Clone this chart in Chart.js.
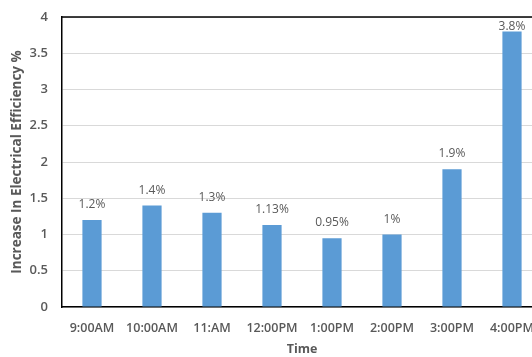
<!DOCTYPE html>
<html>
<head>
<meta charset="utf-8">
<script src="https://cdn.jsdelivr.net/npm/chart.js@4/dist/chart.umd.min.js"></script>
<style>
  html, body { margin: 0; padding: 0; background: #fff; overflow: hidden; }
  #wrap { position: absolute; left: 0; top: 0; width: 542px; height: 357px; }
</style>
</head>
<body>
<div id="wrap"><canvas id="c" width="542" height="357"></canvas></div>
<script>
const categories = ['9:00AM', '10:00AM', '11:AM', '12:00PM', '1:00PM', '2:00PM', '3:00PM', '4:00PM'];
const efficiencyGain = [1.2, 1.4, 1.3, 1.13, 0.95, 1, 1.9, 3.8];
const valueLabels = ['1.2%', '1.4%', '1.3%', '1.13%', '0.95%', '1%', '1.9%', '3.8%'];
const yTicks = [0, 0.5, 1, 1.5, 2, 2.5, 3, 3.5, 4];

const FONT = "'Open Sans', 'Liberation Sans', sans-serif";
const GREY = '#595959';

// Percent labels above each bar
const barLabels = {
  id: 'barLabels',
  afterDatasetsDraw(chart) {
    const { ctx, chartArea } = chart;
    const meta = chart.getDatasetMeta(0);
    ctx.save();
    ctx.font = `12px ${FONT}`;
    ctx.fillStyle = GREY;
    ctx.textAlign = 'center';
    ctx.textBaseline = 'alphabetic';
    meta.data.forEach((bar, i) => {
      const y = Math.max(bar.y - 12, chartArea.top + 13);
      ctx.fillText(valueLabels[i], bar.x, y);
    });
    ctx.restore();
  }
};

// Dark frame line along the top of the plot
const topFrame = {
  id: 'topFrame',
  beforeDatasetsDraw(chart) {
    const { ctx, chartArea } = chart;
    ctx.save();
    ctx.strokeStyle = '#000';
    ctx.lineWidth = 1.5;
    ctx.beginPath();
    ctx.moveTo(chartArea.left, chartArea.top);
    ctx.lineTo(chartArea.right, chartArea.top);
    ctx.stroke();
    ctx.restore();
  }
};

new Chart(document.getElementById('c'), {
  type: 'bar',
  data: {
    labels: categories,
    datasets: [{
      data: efficiencyGain,
      backgroundColor: '#5B9BD5',
      barPercentage: 0.32,
      categoryPercentage: 1
    }]
  },
  options: {
    responsive: false,
    animation: false,
    devicePixelRatio: 1,
    layout: { padding: { left: 0, right: 0, top: 17, bottom: 0 } },
    plugins: { legend: { display: false }, tooltip: { enabled: false } },
    scales: {
      x: {
        grid: { display: false, drawTicks: false },
        border: { color: '#000', width: 1.5 },
        ticks: { color: GREY, font: { family: FONT, size: 12.5, weight: '600' }, padding: 14, maxRotation: 0, autoSkip: false },
        title: { display: true, text: 'Time', color: GREY, font: { family: FONT, size: 12.5, weight: 'bold' }, padding: { top: 10, bottom: 0 } },
        afterFit(scale) { scale.height = 50; scale.paddingLeft = 0; scale.paddingRight = 0; }
      },
      y: {
        min: 0,
        max: 4,
        afterBuildTicks(scale) { scale.ticks = yTicks.map(v => ({ value: v })); },
        grid: { color: '#d9d9d9', lineWidth: 1, drawTicks: false },
        border: { color: '#000', width: 1.5 },
        ticks: { color: GREY, font: { family: FONT, size: 13, weight: '600' }, padding: 14, callback: v => String(v) },
        title: { display: true, text: 'Increase In Electrical Efficiency %', color: GREY, font: { family: FONT, size: 13.5, weight: 'bold' }, padding: { top: 9, bottom: 4 } },
        afterFit(scale) { scale.width = 62; scale.paddingTop = 0; scale.paddingBottom = 0; }
      }
    }
  },
  plugins: [topFrame, barLabels]
});
</script>
</body>
</html>
